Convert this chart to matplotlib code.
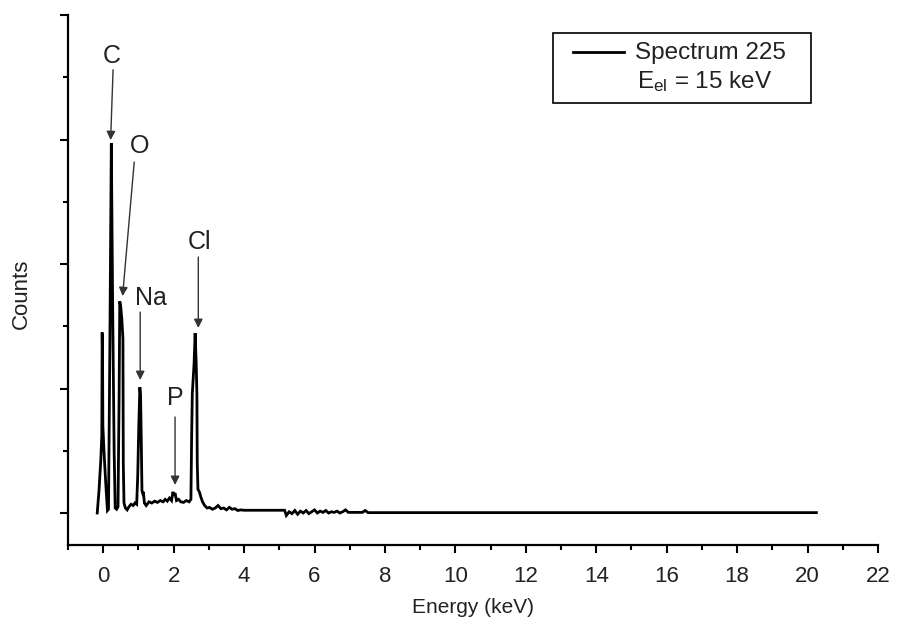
import matplotlib
matplotlib.use('Agg')
from matplotlib import pyplot as plt
from matplotlib.patches import Rectangle
from matplotlib.ticker import MultipleLocator, NullFormatter

plt.rcParams['font.family'] = ['Liberation Sans', 'DejaVu Sans']
plt.rcParams['mathtext.fontset'] = 'custom'
plt.rcParams['mathtext.rm'] = 'Liberation Sans'
plt.rcParams['mathtext.it'] = 'Liberation Sans'

# EDS spectrum (energy in keV, counts in arbitrary units)
energy = [-0.17, -0.12, -0.07, -0.04, -0.03, -0.02, -0.01, 0.03, 0.08, 0.12,
          0.15, 0.19, 0.23, 0.27, 0.31, 0.34, 0.38, 0.42, 0.45, 0.47,
          0.50, 0.53, 0.56, 0.57, 0.59, 0.63, 0.68, 0.73, 0.79, 0.85,
          0.90, 0.95, 0.98, 1.01, 1.04, 1.06, 1.08, 1.10, 1.12, 1.14,
          1.17, 1.22, 1.30, 1.38, 1.46, 1.54, 1.62, 1.70, 1.76, 1.82,
          1.88, 1.94, 1.98, 2.01, 2.04, 2.08, 2.14, 2.20, 2.28, 2.36,
          2.44, 2.49, 2.51, 2.53, 2.58, 2.61, 2.64, 2.66, 2.67, 2.69,
          2.73, 2.77, 2.82, 2.88, 2.95, 3.02, 3.10, 3.18, 3.26, 3.34,
          3.42, 3.50, 3.58, 3.66, 3.74, 3.82, 3.90, 4.00, 5.15, 5.20,
          5.28, 5.36, 5.44, 5.52, 5.60, 5.68, 5.76, 5.84, 5.92, 6.00,
          6.08, 6.16, 6.24, 6.32, 6.40, 6.48, 6.56, 6.64, 6.72, 6.80,
          6.88, 6.96, 7.04, 7.12, 7.20, 7.28, 7.36, 7.44, 7.52, 20.25]
counts = [0, 180, 420, 620, 1450, 1300, 700, 450, 200, 20,
          30, 1400, 2970, 1600, 500, 40, 30, 50, 900, 1700,
          1650, 1550, 1400, 400, 80, 40, 25, 50, 70, 60,
          80, 70, 300, 700, 1010, 950, 600, 180, 160, 170,
          80, 60, 90, 80, 95, 85, 100, 90, 110, 95,
          120, 100, 170, 140, 160, 100, 110, 90, 85, 100,
          90, 110, 600, 960, 1200, 1445, 1200, 960, 400, 190,
          170, 130, 90, 60, 40, 45, 30, 40, 60, 35,
          40, 25, 45, 30, 35, 20, 25, 22, 22, -20,
          10, -5, 20, -10, 15, 0, 20, -5, 10, 25,
          0, 15, 5, 20, 0, 10, 5, 15, 0, 10,
          25, 5, 5, 5, 5, 5, 5, 20, 3, 3]

# peak labels: text, text position, arrow start, arrow tip
peak_labels = [
    ('C', (0.23, 3670), (0.28, 3560), (0.21, 2995)),
    ('O', (1.02, 2947), (0.88, 2819), (0.55, 1742)),
    ('Na', (1.36, 1726), (1.05, 1614), (1.05, 1068)),
    ('P', (2.04, 923), (2.04, 771), (2.04, 225)),
    ('Cl', (2.73, 2176), (2.70, 2056), (2.70, 1486)),
]

legend_lines = ['Spectrum 225', r'$\mathregular{E_{el}}$ = 15 keV']

fig = plt.figure(figsize=(8.97, 6.22), dpi=100)
ax = fig.add_axes([68 / 897, 77 / 622, 810 / 897, 530 / 622])

ax.plot(energy, counts, color='black', lw=2.0, solid_joinstyle='miter')

for name, txt, start, tip in peak_labels:
    ax.text(txt[0], txt[1], name, fontsize=18, color='#222222',
            ha='center', va='center')
    ax.annotate('', xy=tip, xytext=start,
                arrowprops=dict(arrowstyle='-|>', color='#333333', lw=1.0,
                                mutation_scale=13, shrinkA=0, shrinkB=0))

ax.set_xlim(-1, 22)
ax.set_ylim(-257, 4000)
ax.xaxis.set_major_locator(MultipleLocator(2))
ax.xaxis.set_minor_locator(MultipleLocator(1))
ax.yaxis.set_major_locator(MultipleLocator(1000))
ax.yaxis.set_minor_locator(MultipleLocator(500))
ax.yaxis.set_major_formatter(NullFormatter())

for side in ['top', 'right']:
    ax.spines[side].set_visible(False)
for side in ['left', 'bottom']:
    ax.spines[side].set_linewidth(1.6)

ax.tick_params(which='major', direction='out', length=6, width=1.5,
               labelsize=16, pad=9, colors='black', labelcolor='#222222')
ax.tick_params(which='minor', direction='out', length=3.5, width=1.5)

ax.set_xlabel('Energy (keV)', fontsize=15, color='#222222', labelpad=8)
ax.set_ylabel('Counts', fontsize=16, color='#222222')
ax.yaxis.set_label_coords(-0.045, 0.474)

# legend box drawn by hand so the padding matches the original
ax.add_patch(Rectangle((0.599, 0.834), 0.318, 0.132, transform=ax.transAxes,
                       facecolor='white', edgecolor='black', lw=1.2,
                       zorder=5))
ax.plot([0.623, 0.686], [0.930, 0.930], transform=ax.transAxes,
        color='black', lw=2.0, zorder=6)
ax.text(0.700, 0.917, legend_lines[0], transform=ax.transAxes,
        fontsize=17.5, color='#222222', va='baseline', zorder=6)
ax.text(0.702, 0.862, legend_lines[1], transform=ax.transAxes,
        fontsize=17.5, color='#222222', va='baseline', zorder=6)

fig.savefig('out.png', dpi=100)
